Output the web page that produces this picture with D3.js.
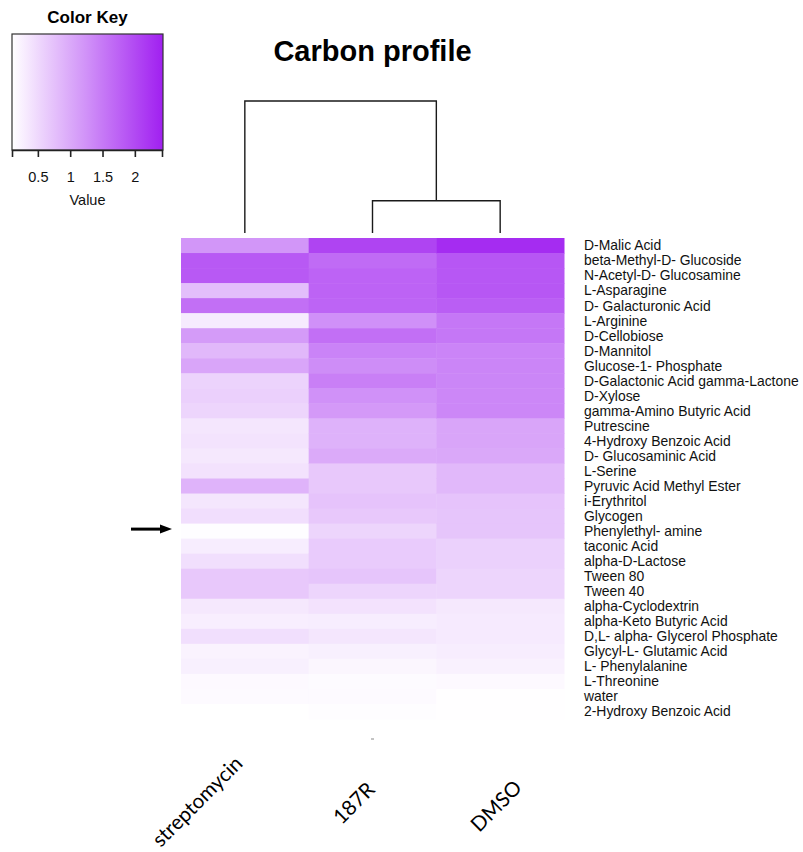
<!DOCTYPE html>
<html>
<head>
<meta charset="utf-8">
<script src="https://cdn.jsdelivr.net/npm/d3@7"></script>
<style>
  body { margin: 0; background: #fff; }
  svg { display: block; }
</style>
</head>
<body>
<div id="chart"></div>
<script>
// Data
const columns = ["streptomycin", "187R", "DMSO"];

const carbons = [
  "D-Malic Acid", "beta-Methyl-D- Glucoside", "N-Acetyl-D- Glucosamine", "L-Asparagine",
  "D- Galacturonic Acid", "L-Arginine", "D-Cellobiose", "D-Mannitol",
  "Glucose-1- Phosphate", "D-Galactonic Acid gamma-Lactone", "D-Xylose", "gamma-Amino Butyric Acid",
  "Putrescine", "4-Hydroxy Benzoic Acid", "D- Glucosaminic Acid", "L-Serine",
  "Pyruvic Acid Methyl Ester", "i-Erythritol", "Glycogen", "Phenylethyl- amine",
  "taconic Acid", "alpha-D-Lactose", "Tween 80", "Tween 40",
  "alpha-Cyclodextrin", "alpha-Keto Butyric Acid", "D,L- alpha- Glycerol Phosphate", "Glycyl-L- Glutamic Acid",
  "L- Phenylalanine", "L-Threonine", "water", "2-Hydroxy Benzoic Acid"
];

const streptomycin = [1.19, 1.83, 1.83, 0.78, 1.60, 0.31, 1.14, 0.84, 1.04, 0.56, 0.59, 0.54, 0.36, 0.39, 0.34, 0.40,
  0.89, 0.36, 0.44, 0.12, 0.29, 0.43, 0.67, 0.67, 0.34, 0.28, 0.43, 0.22, 0.26, 0.16, 0.15, 0.10];
const r187 = [2.05, 1.64, 1.72, 1.72, 1.71, 1.25, 1.60, 1.39, 1.29, 1.43, 1.24, 1.16, 0.90, 0.90, 0.98, 0.67,
  0.67, 0.72, 0.67, 0.54, 0.64, 0.64, 0.70, 0.54, 0.40, 0.29, 0.36, 0.26, 0.19, 0.14, 0.15, 0.12];
const dmso = [2.30, 1.86, 1.85, 1.85, 1.78, 1.51, 1.51, 1.38, 1.37, 1.36, 1.35, 1.35, 1.04, 1.04, 1.00, 0.84,
  0.84, 0.72, 0.70, 0.70, 0.58, 0.58, 0.54, 0.54, 0.34, 0.32, 0.32, 0.29, 0.25, 0.16, 0.11, 0.11];

const keyTicks = [0.5, 1, 1.5, 2];
const keyRange = [0.1, 2.42];

// column dendrogram: (187R, DMSO) join first, then streptomycin
const dendroHeights = [1.0, 4.1];

const highlighted = "Phenylethyl- amine";

// Setting dimensions
const width = 803, height = 852;
const heat = { left: 181, right: 564, top: 238, bottom: 719 };

const svg = d3.select("#chart")
  .append("svg")
  .attr("width", width)
  .attr("height", height)
  .style("font-family", "'Liberation Sans', Arial, sans-serif");

const values = [streptomycin, r187, dmso];
const cells = [];
columns.forEach((c, j) => {
  carbons.forEach((r, i) => {
    cells.push({ col: c, row: r, value: values[j][i] });
  });
});

// Scales
const x = d3.scaleBand().domain(columns).range([heat.left, heat.right]);
const y = d3.scaleBand().domain(carbons).range([heat.top, heat.bottom]);

const color = d3.scaleLinear()
  .domain(keyRange)
  .range(["#ffffff", "#a020f0"])
  .clamp(true);

// Heatmap cells
svg.append("g")
  .selectAll("rect")
  .data(cells)
  .enter()
  .append("rect")
  .attr("x", d => x(d.col))
  .attr("y", d => y(d.row))
  .attr("width", x.bandwidth() + 0.5)
  .attr("height", y.bandwidth() + 0.5)
  .attr("fill", d => color(d.value));

// Row labels
svg.append("g")
  .selectAll("text")
  .data(carbons)
  .enter()
  .append("text")
  .attr("x", heat.right + 20)
  .attr("y", d => y(d) + y.bandwidth() / 2)
  .attr("dy", "0.35em")
  .style("font-size", "13.9px")
  .style("fill", "#111")
  .text(d => d);

// Column labels (rotated)
const colLabelNudge = { "streptomycin": [-1, 765], "187R": [3.5, 791], "DMSO": [23, 789] };
svg.append("g")
  .selectAll("text")
  .data(columns)
  .enter()
  .append("text")
  .attr("transform", d => {
    const px = x(d) + x.bandwidth() / 2 + colLabelNudge[d][0];
    return "translate(" + px + "," + colLabelNudge[d][1] + ") rotate(-45)";
  })
  .style("text-anchor", "end")
  .style("font-family", "Lato, 'Open Sans', sans-serif")
  .style("font-size", "20.5px")
  .style("fill", "#000")
  .text(d => d);

// small stray tick under the middle column
svg.append("line")
  .attr("x1", x("187R") + x.bandwidth() / 2 - 1.5)
  .attr("x2", x("187R") + x.bandwidth() / 2 + 1.5)
  .attr("y1", 739).attr("y2", 739)
  .attr("stroke", "#888").attr("stroke-width", 1);

// Dendrogram
const hY = d3.scaleLinear().domain([0, dendroHeights[1]]).range([233, 101]);
const cx = c => x(c) + x.bandwidth() / 2;
const innerX = (cx("187R") + cx("DMSO")) / 2;
const dendro = d3.path();
// inner merge
dendro.moveTo(cx("187R"), hY(0));
dendro.lineTo(cx("187R"), hY(dendroHeights[0]));
dendro.lineTo(cx("DMSO"), hY(dendroHeights[0]));
dendro.lineTo(cx("DMSO"), hY(0));
// top merge
dendro.moveTo(cx("streptomycin"), hY(0));
dendro.lineTo(cx("streptomycin"), hY(dendroHeights[1]));
dendro.lineTo(innerX, hY(dendroHeights[1]));
dendro.lineTo(innerX, hY(dendroHeights[0]));

svg.append("path")
  .attr("d", dendro.toString())
  .attr("fill", "none")
  .attr("stroke", "#1a1a1a")
  .attr("stroke-width", 1.4);

// Title
svg.append("text")
  .attr("x", (heat.left + heat.right) / 2)
  .attr("y", 61)
  .style("text-anchor", "middle")
  .style("font-size", "29px")
  .style("font-weight", "bold")
  .text("Carbon profile");

// Arrow pointing at highlighted row
const ay = y(highlighted) + y.bandwidth() / 2 - 2;
svg.append("line")
  .attr("x1", 131).attr("x2", 163)
  .attr("y1", ay).attr("y2", ay)
  .attr("stroke", "#000").attr("stroke-width", 3);
svg.append("path")
  .attr("d", `M160,${ay - 4.5}L172,${ay}L160,${ay + 4.5}Z`)
  .attr("fill", "#000");

// Color key
const key = { x0: 12, x1: 163, y0: 34, y1: 150 };
const keyX = d3.scaleLinear().domain(keyRange).range([key.x0, key.x1 - 1]);

const defs = svg.append("defs");
const grad = defs.append("linearGradient").attr("id", "keygrad");
d3.range(0, 1.001, 0.1).forEach(t => {
  grad.append("stop")
    .attr("offset", t)
    .attr("stop-color", color(keyRange[0] + t * (keyRange[1] - keyRange[0])));
});

svg.append("rect")
  .attr("x", key.x0).attr("y", key.y0)
  .attr("width", key.x1 - key.x0).attr("height", key.y1 - key.y0)
  .attr("fill", "url(#keygrad)")
  .attr("stroke", "#333")
  .attr("stroke-width", 1.2);

const keyAxis = svg.append("g")
  .attr("transform", "translate(0," + key.y1 + ")")
  .call(d3.axisBottom(keyX).tickValues(keyTicks).tickSize(7).tickPadding(15).tickFormat(d3.format("")));
keyAxis.select(".domain").attr("stroke", "#222").attr("stroke-width", 1.6);
keyAxis.selectAll(".tick line").attr("stroke", "#222").attr("stroke-width", 1.6);
keyAxis.selectAll(".tick text")
  .style("font-family", "'Liberation Sans', Arial, sans-serif")
  .style("font-size", "14.5px")
  .style("fill", "#111");

svg.append("text")
  .attr("x", (key.x0 + key.x1) / 2)
  .attr("y", 205)
  .style("text-anchor", "middle")
  .style("font-size", "14.5px")
  .style("fill", "#111")
  .text("Value");

svg.append("text")
  .attr("x", (key.x0 + key.x1) / 2)
  .attr("y", 23)
  .style("text-anchor", "middle")
  .style("font-size", "17px")
  .style("font-weight", "bold")
  .text("Color Key");
</script>
</body>
</html>
